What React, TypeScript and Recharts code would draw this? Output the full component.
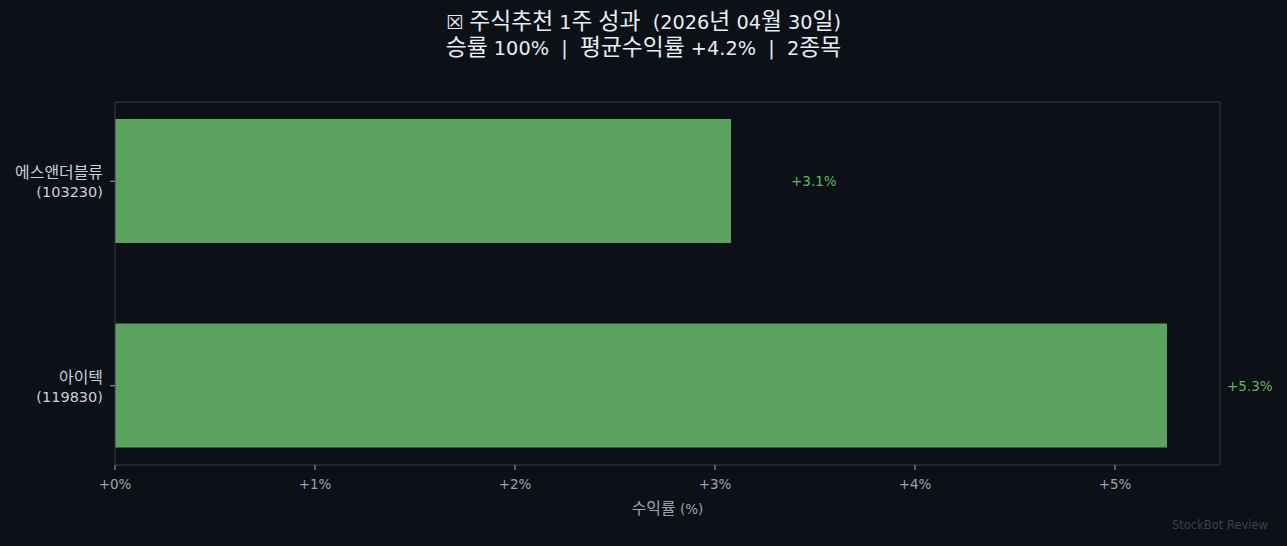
import { Bar, BarChart, LabelList, XAxis, YAxis } from "recharts";

const names = ["에스앤더블류", "아이텍"];
const codes = ["103230", "119830"];
const returns = [3.08, 5.26];
const xTicks = [0, 1, 2, 3, 4, 5];

const data = names.map((name, i) => ({ name, code: codes[i], ret: returns[i] }));

const BG = "#0d1017";
const FRAME = "#363b44";
const BAR = "#5aa25e";
const LABEL = "#5cb860";
const TICK = "#9ba3ae";
const FONT = "'DejaVu Sans', 'Noto Sans CJK KR', sans-serif";
const KO_SCALE = 1.18;

// split text into hangul / other runs so hangul can be drawn a bit larger
function runs(text: string) {
  return text.split(/([가-힣]+)/).filter((s) => s.length > 0).map((s) => ({ s, ko: /[가-힣]/.test(s) }));
}

function KoSvg({ text, size }: { text: string; size: number }) {
  return (
    <>
      {runs(text).map((r, i) => (
        <tspan key={i} fontSize={r.ko ? size * KO_SCALE : size}>{r.s}</tspan>
      ))}
    </>
  );
}

function KoHtml({ text }: { text: string }) {
  return (
    <>
      {runs(text).map((r, i) => (
        <span key={i} style={r.ko ? { fontSize: `${KO_SCALE}em` } : undefined}>{r.s}</span>
      ))}
    </>
  );
}

function NameTick({ x, y, payload }: any) {
  const row = data.find((d) => d.name === payload.value);
  const tx = x - 5;
  return (
    <text x={tx} y={y} textAnchor="end" fill="#c9d1d9" fontSize={13.5} fontFamily={FONT}>
      <tspan x={tx} dy={-3} fontSize={13.5 * KO_SCALE}>{payload.value}</tspan>
      <tspan x={tx} dy={19} fontSize={14.5}>({row?.code})</tspan>
    </text>
  );
}

function ValueLabel({ x, y, width, height, value }: any) {
  return (
    <text x={x + width + 60} y={y + height / 2} dy={5} fill={LABEL} fontSize={13.5} fontFamily={FONT}>
      {`+${Number(value).toFixed(1)}%`}
    </text>
  );
}

function AxisTitle({ viewBox }: any) {
  const cx = viewBox.x + viewBox.width / 2;
  return (
    <text x={cx} y={viewBox.y + viewBox.height + 9} textAnchor="middle" fill={TICK} fontFamily={FONT}>
      <KoSvg text="수익률 (%)" size={13.5} />
    </text>
  );
}

export default function App() {
  return (
    <div style={{ position: "absolute", left: 0, top: 0, width: 1287, height: 546, background: BG, fontFamily: FONT }}>
      <div style={{ position: "absolute", top: 9, width: 1287, textAlign: "center", color: "#e6edf3", fontSize: 19.3, lineHeight: "25px", whiteSpace: "pre" }}>
        <div><KoHtml text="☒ 주식추천 1주 성과  (2026년 04월 30일)" /></div>
        <div><KoHtml text="승률 100%  |  평균수익률 +4.2%  |  2종목" /></div>
      </div>
      <BarChart
        width={1287}
        height={546}
        data={data}
        layout="vertical"
        margin={{ top: 101, right: 66, bottom: 41, left: 15 }}
        barSize={124}
      >
        <XAxis
          type="number"
          dataKey="ret"
          domain={[0, 5.525]}
          ticks={xTicks}
          tickFormatter={(v) => `+${v}%`}
          height={40}
          stroke={FRAME}
          tickLine={{ stroke: TICK }}
          tickSize={5}
          tick={{ fill: TICK, fontSize: 13.5, fontFamily: FONT, dy: 7 }}
          label={<AxisTitle />}
        />
        <XAxis xAxisId="top" orientation="top" type="number" domain={[0, 5.525]} height={1} tick={false} tickLine={false} stroke={FRAME} />
        <YAxis
          type="category"
          dataKey="name"
          width={100}
          padding={{ top: -23, bottom: -23 }}
          stroke={FRAME}
          tickLine={{ stroke: TICK }}
          tickSize={5}
          tick={<NameTick />}
        />
        <YAxis yAxisId="right" orientation="right" type="category" dataKey="name" width={1} tick={false} tickLine={false} stroke={FRAME} />
        <Bar dataKey="ret" fill={BAR} isAnimationActive={false}>
          <LabelList dataKey="ret" content={<ValueLabel />} />
        </Bar>
      </BarChart>
      <div style={{ position: "absolute", left: 1172, top: 518, color: "#3b414a", fontSize: 11.5 }}>StockBot Review</div>
    </div>
  );
}
